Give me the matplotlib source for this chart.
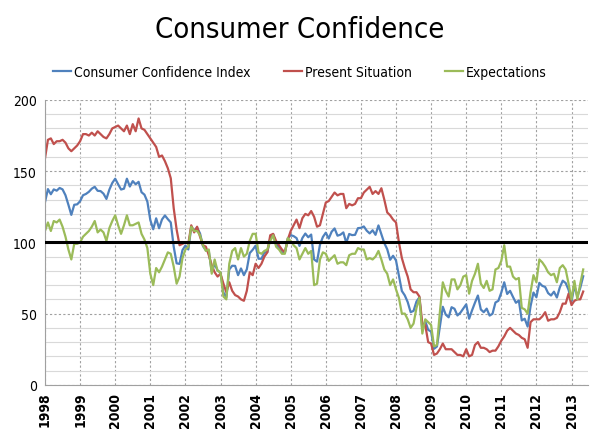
import numpy as np
import matplotlib
matplotlib.use('Agg')
import matplotlib.pyplot as plt
from matplotlib.ticker import MultipleLocator

plt.rcParams['font.family'] = ['DejaVu Sans']
plt.rcParams['font.stretch'] = 'condensed'

# monthly values, Jan 1998 - May 2013
cci = [
    128.3, 137.4, 133.8, 137.2, 136.3, 138.2, 137.2, 133.1, 126.4, 119.3, 126.4, 126.7,  # 1998
    128.9, 133.1, 134.0, 135.5, 137.7, 139.0, 136.2, 136.0, 134.2, 130.5, 137.0, 141.7,  # 1999
    144.7, 140.8, 137.1, 137.7, 144.7, 139.2, 143.0, 140.8, 142.5, 135.2, 133.5, 128.6,  # 2000
    115.7, 109.2, 116.9, 109.9, 116.1, 118.9, 116.3, 114.0, 97.0, 85.3, 84.9, 94.6,      # 2001
    97.8, 95.0, 110.7, 108.5, 110.3, 106.3, 97.4, 94.5, 93.7, 79.6, 84.9, 80.3,          # 2002
    78.8, 64.8, 61.4, 81.0, 83.6, 83.5, 77.0, 81.7, 77.0, 81.1, 92.5, 94.8,              # 2003
    97.7, 88.5, 88.5, 93.0, 93.1, 102.8, 105.7, 98.7, 96.7, 92.9, 92.6, 102.7,           # 2004
    105.1, 104.4, 103.0, 97.5, 103.1, 106.2, 103.6, 105.5, 88.0, 86.5, 98.3, 103.8,      # 2005
    106.8, 102.7, 107.5, 109.8, 104.7, 105.4, 107.0, 99.6, 105.9, 105.1, 105.3, 110.0,   # 2006
    110.2, 111.2, 108.2, 106.3, 108.5, 105.3, 111.9, 105.6, 99.5, 95.2, 87.8, 90.6,      # 2007
    87.3, 76.4, 65.9, 62.8, 58.1, 51.0, 51.9, 58.5, 61.4, 38.8, 44.7, 38.6,              # 2008
    37.4, 25.3, 26.9, 40.8, 54.8, 49.3, 47.4, 54.5, 53.4, 48.7, 50.6, 53.6,              # 2009
    56.5, 46.4, 52.3, 57.7, 62.7, 52.9, 51.0, 53.5, 48.6, 49.9, 57.8, 59.0,              # 2010
    64.8, 72.0, 63.8, 66.0, 61.7, 57.6, 59.2, 45.2, 46.4, 40.9, 55.2, 64.8,              # 2011
    61.5, 71.6, 69.5, 68.7, 64.4, 62.7, 65.4, 61.3, 68.4, 73.1, 71.5, 66.7,              # 2012
    58.4, 69.6, 61.9, 68.1, 76.2,                                                      # 2013
]

present = [
    159, 172, 173, 169, 171, 171, 172, 170, 166, 164, 166, 168,
    171, 176, 176, 175, 177, 175, 178, 176, 174, 173, 176, 180,
    181, 182, 180, 178, 182, 176, 183, 178, 187, 180, 179, 176,
    173, 170, 167, 160, 161, 157, 152, 145, 124, 109, 98, 99,
    100, 99, 112, 107, 111, 104, 98, 97, 91, 84, 79, 76,
    78, 71, 65, 72, 66, 63, 62, 60, 59, 66, 79, 77,
    85, 82, 85, 90, 93, 105, 106, 101, 98, 95, 93, 102,
    108, 112, 116, 110, 117, 120, 119, 122, 118, 111, 112, 120,
    128, 129, 132, 135, 133, 134, 134, 124, 127, 126, 127, 131,
    131, 135, 137, 139, 134, 136, 134, 138, 130, 121, 119, 116,
    114, 100, 89, 82, 76, 67, 65, 65, 62, 43, 42, 30,
    29, 21, 22, 25, 29, 25, 25, 25, 23, 21, 21, 20,
    25, 20, 21, 28, 30, 26, 26, 25, 23, 24, 24, 27,
    31, 34, 38, 40, 38, 36, 35, 33, 32, 26, 44, 46,
    46, 46, 48, 51, 45, 46, 46, 47, 51, 57, 57, 64,
    56, 59, 60, 60, 65.5,
]

expect = [
    108, 114, 108, 115, 114, 116, 111, 104, 95, 88, 99, 99,
    100, 104, 106, 108, 111, 115, 107, 109, 107, 101, 110, 115,
    119, 112, 106, 112, 119, 112, 112, 113, 114, 106, 102, 96,
    78, 70, 82, 79, 83, 88, 93, 92, 83, 71, 76, 89,
    95, 97, 111, 108, 108, 105, 98, 94, 95, 78, 88, 80,
    79, 62, 60, 85, 94, 96, 88, 96, 90, 92, 101, 106,
    106, 93, 92, 94, 95, 101, 105, 97, 95, 92, 92, 103,
    101, 98, 96, 88, 92, 96, 92, 94, 70, 71, 88, 93,
    92, 87, 89, 91, 85, 86, 86, 84, 91, 92, 92, 96,
    95, 95, 88, 89, 88, 90, 94, 88, 81, 78, 70, 74,
    67, 61, 50, 50, 46, 40, 43, 54, 61, 36, 46, 44,
    42, 27, 28, 51, 72, 66, 62, 74, 74, 67, 70, 76,
    77, 64, 73, 78, 85, 71, 68, 73, 66, 67, 81, 82,
    87, 98, 83, 83, 76, 74, 75, 54, 53, 50, 65, 77,
    72, 88, 86, 83, 79, 77, 78, 72, 82, 84, 81, 71,
    60, 73, 60, 71, 81,
]

years = list(range(1998, 2014))
t = 1998 + np.arange(len(cci)) / 12.0

fig = plt.figure(figsize=(6, 4.35), dpi=100)
ax = fig.add_axes([0.075, 0.113, 0.905, 0.655])

ax.plot(t, cci, color='#4F81BD', lw=1.6, label='Consumer Confidence Index')
ax.plot(t, present, color='#C0504D', lw=1.6, label='Present Situation')
ax.plot(t, expect, color='#9BBB59', lw=1.6, label='Expectations')
ax.axhline(100, color='black', lw=2.2, zorder=3)

ax.set_xlim(1998, 2013.47)
ax.set_ylim(0, 200)
ax.yaxis.set_major_locator(MultipleLocator(50))
ax.yaxis.set_minor_locator(MultipleLocator(10))
ax.set_xticks(years)
ax.set_xticklabels([str(y) for y in years], rotation=90, fontsize=10, fontweight='bold')
ax.tick_params(axis='y', labelsize=10, length=0, which='both', pad=6)
ax.tick_params(axis='x', length=0, pad=5)

ax.grid(which='minor', axis='y', color='#d9d9d9', lw=0.8, ls='-')
ax.grid(which='major', axis='y', color='#a0a0a0', lw=0.8, ls=(0, (2, 2)))
ax.grid(which='major', axis='x', color='#a0a0a0', lw=0.8, ls=(0, (2, 2)))
ax.set_axisbelow(True)

for s in ['top', 'right']:
    ax.spines[s].set_visible(False)
ax.spines['left'].set_color('#a0a0a0')
ax.spines['bottom'].set_color('#a0a0a0')

fig.text(0.5, 0.93, 'Consumer Confidence', ha='center', va='center', fontsize=21)
fig.legend(loc='center', bbox_to_anchor=(0.5, 0.832), ncol=3, frameon=False,
           fontsize=10, handlelength=1.3, handletextpad=0.2, columnspacing=2.4)

fig.savefig('out.png', dpi=100)
